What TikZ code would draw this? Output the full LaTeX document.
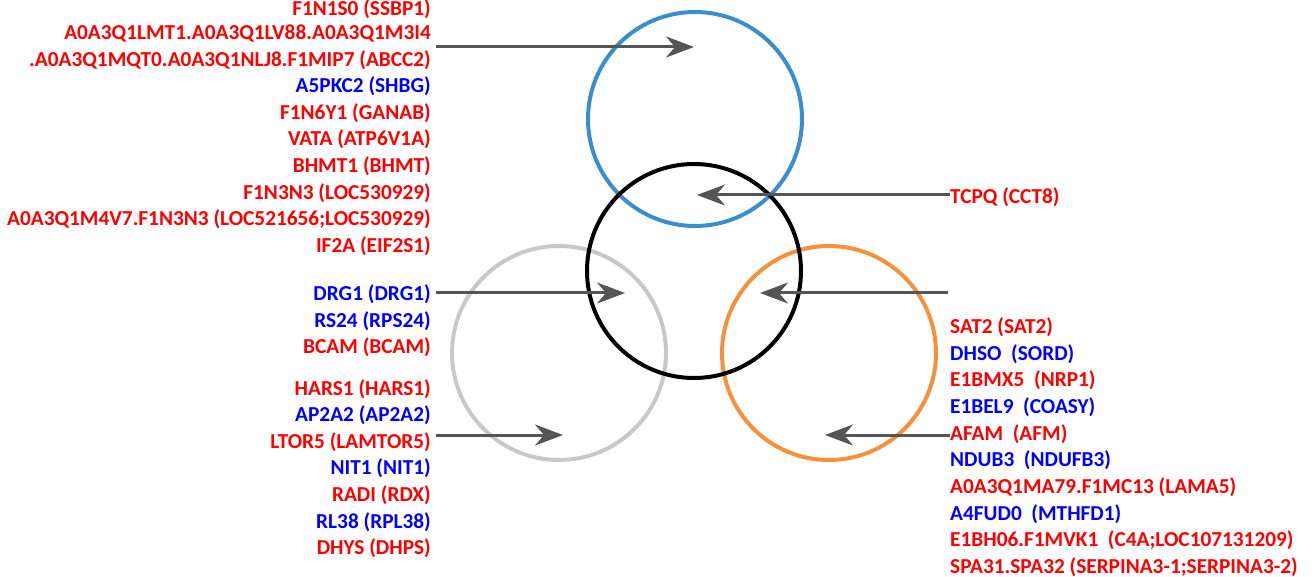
\documentclass[tikz,border=0pt]{standalone}
\usepackage{fontspec}
\setmainfont{Carlito}
\usetikzlibrary{arrows.meta}
\definecolor{cblue}{RGB}{58,142,206}
\definecolor{corange}{RGB}{247,144,58}
\definecolor{cgray}{RGB}{200,200,200}
\definecolor{carrow}{RGB}{85,85,85}
\definecolor{tred}{RGB}{255,0,0}
\definecolor{tblue}{RGB}{0,0,255}
\begin{document}
\begin{tikzpicture}[x=1pt,y=-1pt,
  lbl/.style={inner sep=0pt,font=\fontsize{21.3}{23}\selectfont\bfseries},
  lr/.style={lbl,anchor=base east},
  rl/.style={lbl,anchor=base west},
  red/.style={text=tred},
  blu/.style={text=tblue},
  ring/.style={circle,draw,line width=4pt,minimum size=214pt,inner sep=0pt},
  conn/.style={draw=carrow,line width=3pt,-{Stealth[length=28pt,width=21pt,inset=9pt]}}
]
\useasboundingbox (0,0) rectangle (1314,577);
% circles
\node[ring,draw=cblue] (blue) at (695,119) {};
\node[ring,draw=cgray] (gray) at (559,353) {};
\node[ring,draw=corange] (orange) at (829,353) {};
\node[ring,draw=black] (black) at (694,271) {};
% left top group
\node[lr,red] (t1) at (431,16) {F1N1S0 (SSBP1)};
\node[lr,red] (t2) at (431,39.6) {A0A3Q1LMT1.A0A3Q1LV88.A0A3Q1M3I4};
\node[lr,red] (t3) at (431,66.2) {.A0A3Q1MQT0.A0A3Q1NLJ8.F1MIP7 (ABCC2)};
\node[lr,blu] (t4) at (431,92.8) {A5PKC2 (SHBG)};
\node[lr,red] (t5) at (431,119.4) {F1N6Y1 (GANAB)};
\node[lr,red] (t6) at (431,146) {VATA (ATP6V1A)};
\node[lr,red] (t7) at (431,172.6) {BHMT1 (BHMT)};
\node[lr,red] (t8) at (431,199.2) {F1N3N3 (LOC530929)};
\node[lr,red] (t9) at (431,225.8) {A0A3Q1M4V7.F1N3N3 (LOC521656;LOC530929)};
\node[lr,red] (t10) at (431,252.4) {IF2A (EIF2S1)};
% left middle group
\node[lr,blu] (m1) at (431,300.7) {DRG1 (DRG1)};
\node[lr,blu] (m2) at (431,327.3) {RS24 (RPS24)};
\node[lr,red] (m3) at (431,353.9) {BCAM (BCAM)};
% left bottom group
\node[lr,red] (b1) at (431,395) {HARS1 (HARS1)};
\node[lr,blu] (b2) at (431,421.6) {AP2A2 (AP2A2)};
\node[lr,red] (b3) at (431,448.2) {LTOR5 (LAMTOR5)};
\node[lr,blu] (b4) at (431,474.8) {NIT1 (NIT1)};
\node[lr,red] (b5) at (431,501.4) {RADI (RDX)};
\node[lr,blu] (b6) at (431,528) {RL38 (RPL38)};
\node[lr,red] (b7) at (431,554.6) {DHYS (DHPS)};
% right
\node[rl,red] (tc) at (950,203.3) {TCPQ (CCT8)};
\node[rl,red] (r1) at (950,333.3) {SAT2 (SAT2)};
\node[rl,blu] (r2) at (950,360) {DHSO\ \ (SORD)};
\node[rl,red] (r3) at (950,386.7) {E1BMX5\ \ (NRP1)};
\node[rl,blu] (r4) at (950,413.3) {E1BEL9\ \ (COASY)};
\node[rl,red] (r5) at (950,440) {AFAM\ \ (AFM)};
\node[rl,blu] (r6) at (950,466.7) {NDUB3\ \ (NDUFB3)};
\node[rl,red] (r7) at (950,493.3) {A0A3Q1MA79.F1MC13 (LAMA5)};
\node[rl,blu] (r8) at (950,520) {A4FUD0\ \ (MTHFD1)};
\node[rl,red] (r9) at (950,546.7) {E1BH06.F1MVK1\ \ (C4A;LOC107131209)};
\node[rl,red] (r10) at (950,573.3) {SPA31.SPA32 (SERPINA3-1;SERPINA3-2)};
% connector ends
\coordinate (s1) at (436,47);   \coordinate (e1) at (694,47);
\coordinate (s2) at (950,195);  \coordinate (e2) at (697,195);
\coordinate (s3) at (436,293);  \coordinate (e3) at (625,293);
\coordinate (s4) at (948,293);  \coordinate (e4) at (760,293);
\coordinate (s5) at (436,435);  \coordinate (e5) at (563,435);
\coordinate (s6) at (950,435);  \coordinate (e6) at (825,435);
\draw[conn] (s1) -- (e1);
\draw[conn] (s2) -- (e2);
\draw[conn] (s3) -- (e3);
\draw[conn] (s4) -- (e4);
\draw[conn] (s5) -- (e5);
\draw[conn] (s6) -- (e6);
\end{tikzpicture}
\end{document}
